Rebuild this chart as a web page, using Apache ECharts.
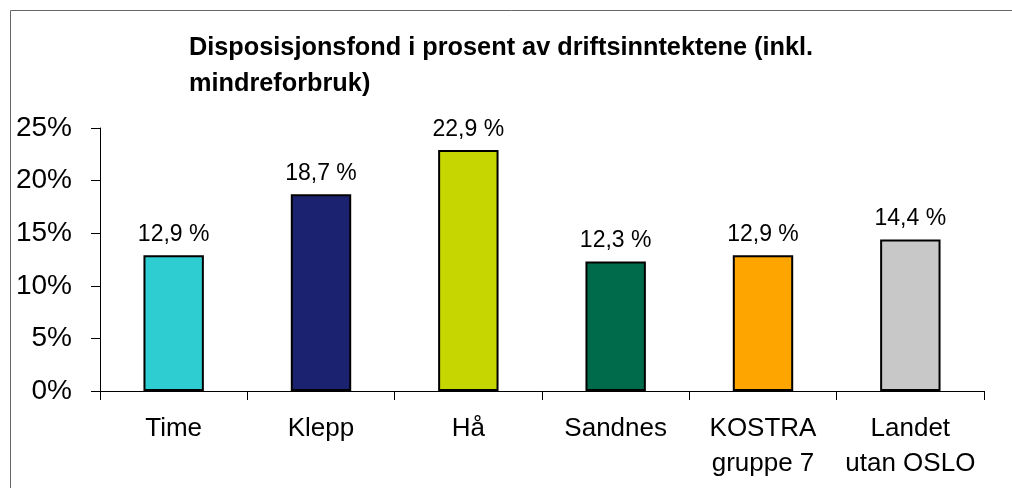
<!DOCTYPE html>
<html>
<head>
<meta charset="utf-8">
<script src="https://cdn.jsdelivr.net/npm/echarts@6/dist/echarts.min.js"></script>
<style>
  html, body { margin: 0; padding: 0; background: #fff; }
  #chart { width: 1012px; height: 488px; }
</style>
</head>
<body>
<div id="chart"></div>
<script>
const categories = ['Time', 'Klepp', 'Hå', 'Sandnes', 'KOSTRA\ngruppe 7', 'Landet\nutan OSLO']
const values = [12.9, 18.7, 22.9, 12.3, 12.9, 14.4]
const barColors = ['#2ecdd2', '#1b2270', '#c6d600', '#006b4a', '#ffa500', '#c8c8c8']
const yTicks = [0, 5, 10, 15, 20, 25]

const font = 'Liberation Sans, Arial, sans-serif'

const option = {
  animation: false,
  graphic: [{
    type: 'rect',
    shape: { x: 10.5, y: 10.5, width: 1100, height: 600 },
    style: { fill: 'none', stroke: '#666', lineWidth: 1 },
    silent: true
  }],
  title: {
    text: 'Disposisjonsfond i prosent av driftsinntektene (inkl.\nmindreforbruk)',
    left: 189,
    top: 30,
    padding: 0,
    textStyle: {
      fontFamily: font,
      fontSize: 25.3,
      fontWeight: 'bold',
      color: '#000',
      lineHeight: 36
    }
  },
  grid: { left: 100, right: 28, top: 128, bottom: 97 },
  xAxis: {
    type: 'category',
    data: categories,
    axisLine: { lineStyle: { color: '#000', width: 1 } },
    axisTick: { show: true, length: 9, inside: false, lineStyle: { color: '#000' } },
    axisLabel: {
      fontFamily: font,
      fontSize: 26,
      lineHeight: 35,
      color: '#000',
      margin: 20,
      interval: 0
    }
  },
  yAxis: {
    type: 'value',
    min: yTicks[0],
    max: yTicks[yTicks.length - 1],
    interval: 5,
    axisLine: { show: true, lineStyle: { color: '#000', width: 1 } },
    axisTick: { show: true, length: 9, lineStyle: { color: '#000' } },
    splitLine: { show: false },
    axisLabel: {
      fontFamily: font,
      fontSize: 28,
      color: '#000',
      margin: 28,
      formatter: v => v + '%'
    }
  },
  series: [{
    type: 'bar',
    barWidth: '41%',
    data: values.map((v, i) => ({
      value: v,
      itemStyle: { color: barColors[i] }
    })),
    itemStyle: { borderColor: '#000', borderWidth: 2 },
    label: {
      show: true,
      position: 'top',
      distance: 9,
      fontFamily: font,
      fontSize: 23,
      color: '#000',
      formatter: p => p.value.toFixed(1).replace('.', ',') + ' %'
    }
  }]
}

const myChart = echarts.init(document.getElementById('chart'))
myChart.setOption(option)
</script>
</body>
</html>
